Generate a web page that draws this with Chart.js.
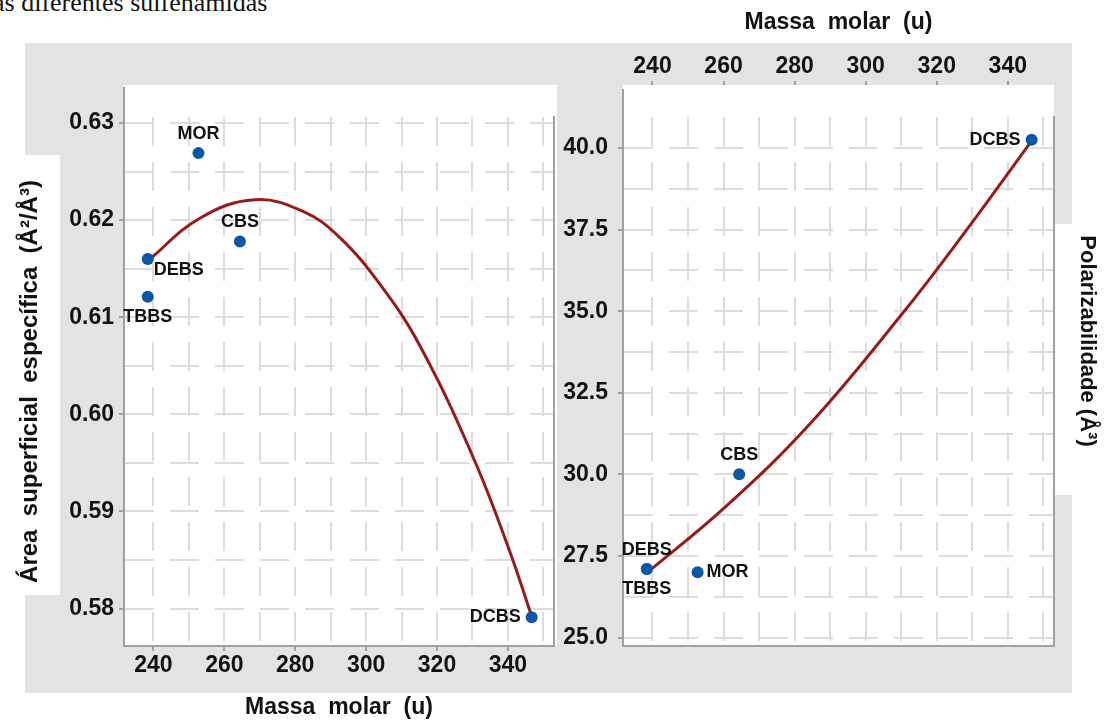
<!DOCTYPE html>
<html lang="pt">
<head>
<meta charset="utf-8">
<title>Área superficial específica e polarizabilidade das sulfenamidas</title>
<script src="https://cdn.jsdelivr.net/npm/chart.js@4.4.1/dist/chart.umd.min.js"></script>
<style>
  body { margin: 0; background: #fff; }
  #page { position: relative; width: 1112px; height: 721px; overflow: hidden; }
  #page > * { position: absolute; }
  .doc-text { left: -7px; top: -10px; font: 26px 'Liberation Serif', 'Times New Roman', serif; line-height: 26px; white-space: nowrap; color: #111; }
  .frame-bg { left: 25px; top: 43px; width: 1047px; height: 650px; background: #e3e3e3; }
  .notch-left { left: 25px; top: 155px; width: 35px; height: 440px; background: #fff; }
  .notch-right { left: 1054px; top: 224px; width: 18px; height: 271px; background: #fff; }
  .plot-left { left: 124px; top: 85px; width: 433px; height: 561px; background: #fff; }
  .plot-right { left: 623px; top: 85px; width: 431px; height: 561px; background: #fff; }
  .axis-ext { width: 2px; background: #a0a0a0; }
</style>
</head>
<body>
<div id="page">
  <div class="doc-text">as diferentes sulfenamidas</div>
  <div class="frame-bg"></div>
  <div class="notch-left"></div>
  <div class="notch-right"></div>
  <div class="plot-left"></div>
  <div class="plot-right"></div>
  <div class="axis-ext" style="left:123px;top:87px;height:30px"></div>
  <div class="axis-ext" style="left:622px;top:89px;height:28px"></div>
  <canvas id="areaChart" width="560" height="721" style="left:0;top:0"></canvas>
  <canvas id="polarChart" width="556" height="721" style="left:556px;top:0"></canvas>
</div>
<script>
const compounds = ['TBBS', 'DEBS', 'MOR', 'CBS', 'DCBS'];
const molarMass = [238.4, 238.4, 252.7, 264.4, 346.7];
const surfaceArea = [0.6121, 0.6160, 0.6269, 0.6178, 0.5791];
const polarizability = [27.1, 27.1, 27.0, 30.0, 40.25];

// fitted curves
const areaFitMass = [238.4, 253.1, 268.6, 282.2, 292.3, 304.3, 315.4, 330.4, 340.5, 346.7];
const areaFitValue = [0.6158, 0.6202, 0.6221, 0.6209, 0.6183, 0.6132, 0.6069, 0.5954, 0.5859, 0.5792];
const polarFitMass = [238.4, 260.6, 284.6, 310.5, 328.4, 346.7];
const polarFitValue = [26.98, 29.01, 31.58, 34.95, 37.49, 40.22];

// tick labels
const massTicks = [240, 260, 280, 300, 320, 340];
const areaTicks = [0.58, 0.59, 0.60, 0.61, 0.62, 0.63];
const polarTicks = [25.0, 27.5, 30.0, 32.5, 35.0, 37.5, 40.0];

const areaLabelSpots = { TBBS: 'below', DEBS: 'belowRight', MOR: 'above', CBS: 'above', DCBS: 'left' };
const polarLabelSpots = { TBBS: 'below', DEBS: 'above', MOR: 'right', CBS: 'above', DCBS: 'left' };

const pointBlue = '#0c56a6';
const fitRed = '#961b1b';
const gridGray = '#dcdcdc';
const axisGray = '#a0a0a0';
const textColor = '#111111';
const gridDash = [29, 16];
const tickFont = { size: 23, weight: 'bold' };
const titleFont = { size: 23, weight: 'bold' };

Chart.defaults.font.family = '"Liberation Sans", Arial, sans-serif';
Chart.defaults.color = textColor;

const isLabeled = (list, v) => list.some(t => Math.abs(t - v) < 1e-6);
const tickMarkColor = list => c => (c.tick && isLabeled(list, c.tick.value)) ? axisGray : 'rgba(0,0,0,0)';

function toPoints(xs, ys) {
    return xs.map((x, i) => ({ x: x, y: ys[i] }));
}

// names next to the markers
function pointLabels(spots) {
    return {
        id: 'pointLabels',
        afterDatasetsDraw(chart) {
            const ctx = chart.ctx;
            ctx.save();
            ctx.font = 'bold 18px "Liberation Sans", Arial, sans-serif';
            ctx.fillStyle = textColor;
            ctx.textBaseline = 'middle';
            chart.getDatasetMeta(0).data.forEach((pt, i) => {
                const spot = spots[compounds[i]];
                let x = pt.x, y = pt.y;
                ctx.textAlign = 'center';
                if (spot === 'above') { y -= 19; }
                else if (spot === 'below') { y += 20; }
                else if (spot === 'belowRight') { ctx.textAlign = 'left'; x += 6; y += 11; }
                else if (spot === 'left') { ctx.textAlign = 'right'; x -= 11; }
                else if (spot === 'right') { ctx.textAlign = 'left'; x += 9; }
                ctx.fillText(compounds[i], x, y);
            });
            ctx.restore();
        }
    };
}

// right-hand axis title, reads top to bottom
const sideTitle = {
    id: 'sideTitle',
    afterDraw(chart) {
        const ctx = chart.ctx;
        const area = chart.chartArea;
        ctx.save();
        ctx.translate(area.right + 33, area.top + 224);
        ctx.rotate(Math.PI / 2);
        ctx.font = 'bold 22px "Liberation Sans", Arial, sans-serif';
        ctx.fillStyle = textColor;
        ctx.textAlign = 'center';
        ctx.textBaseline = 'middle';
        ctx.fillText('Polarizabilidade (Å³)', 0, 0);
        ctx.restore();
    }
};

function edgeScale(position, size) {
    return {
        type: 'linear',
        position: position,
        min: 0,
        max: 1,
        afterFit: s => { if (position === 'right') { s.width = size; } else { s.height = size; } },
        ticks: { display: false },
        grid: { display: false },
        border: { display: true, color: axisGray, width: 2 }
    };
}

function datasets(values, fitMass, fitValue) {
    return [
        {
            data: toPoints(molarMass, values),
            backgroundColor: pointBlue,
            borderWidth: 0,
            pointRadius: 6,
            pointHoverRadius: 6,
            order: 0
        },
        {
            data: toPoints(fitMass, fitValue),
            showLine: true,
            borderColor: fitRed,
            borderWidth: 3,
            pointRadius: 0,
            tension: 0.4,
            fill: false,
            order: 1
        }
    ];
}

new Chart(document.getElementById('areaChart'), {
    type: 'scatter',
    data: { datasets: datasets(surfaceArea, areaFitMass, areaFitValue) },
    options: {
        responsive: false,
        animation: false,
        events: [],
        layout: { padding: { left: 10, top: 117, right: 4, bottom: 0 } },
        plugins: { legend: { display: false }, tooltip: { enabled: false } },
        scales: {
            x: {
                type: 'linear',
                position: 'bottom',
                min: 231.7,
                max: 353.0,
                afterFit: s => { s.height = 75; },
                ticks: {
                    stepSize: 10,
                    includeBounds: false,
                    autoSkip: false,
                    maxRotation: 0,
                    padding: 1,
                    font: tickFont,
                    callback: v => isLabeled(massTicks, v) ? String(v) : ''
                },
                grid: { color: gridGray, lineWidth: 2, tickLength: 5, tickWidth: 2, tickColor: tickMarkColor(massTicks) },
                border: { display: true, color: axisGray, width: 2, dash: gridDash },
                title: { display: true, text: 'Massa  molar  (u)', font: titleFont, padding: { top: 0, bottom: 0 } }
            },
            y: {
                type: 'linear',
                position: 'left',
                min: 0.57614,
                max: 0.63062,
                afterFit: s => { s.width = 114; },
                ticks: {
                    stepSize: 0.005,
                    includeBounds: false,
                    autoSkip: false,
                    padding: 5,
                    font: tickFont,
                    callback: v => isLabeled(areaTicks, v) ? v.toFixed(2) : ''
                },
                grid: { color: gridGray, lineWidth: 2, tickLength: 5, tickWidth: 2, tickColor: tickMarkColor(areaTicks) },
                border: { display: true, color: axisGray, width: 2, dash: gridDash },
                title: { display: true, text: 'Área  superficial  específica  (Å²/Å³)', font: { size: 24, weight: 'bold' }, padding: { top: 6, bottom: 0 } }
            },
            yEdge: edgeScale('right', 0)
        }
    },
    plugins: [pointLabels(areaLabelSpots)]
});

new Chart(document.getElementById('polarChart'), {
    type: 'scatter',
    data: { datasets: datasets(polarizability, polarFitMass, polarFitValue) },
    options: {
        responsive: false,
        animation: false,
        events: [],
        layout: { padding: 0 },
        plugins: { legend: { display: false }, tooltip: { enabled: false } },
        scales: {
            x: {
                type: 'linear',
                position: 'top',
                min: 231.7,
                max: 353.0,
                afterFit: s => { s.height = 117; },
                ticks: {
                    stepSize: 10,
                    includeBounds: false,
                    autoSkip: false,
                    maxRotation: 0,
                    padding: 1,
                    font: tickFont,
                    callback: v => isLabeled(massTicks, v) ? String(v) : ''
                },
                grid: {
                    color: gridGray, lineWidth: 2, tickLength: 36, tickWidth: 2,
                    tickColor: tickMarkColor(massTicks), tickBorderDash: [4, 100]
                },
                border: { display: false, dash: gridDash },
                title: { display: true, text: 'Massa  molar  (u)', font: titleFont, padding: { top: 9, bottom: 0 } }
            },
            xEdge: edgeScale('bottom', 75),
            y: {
                type: 'linear',
                position: 'left',
                min: 24.74,
                max: 40.95,
                afterFit: s => { s.width = 67; },
                ticks: {
                    stepSize: 1.25,
                    includeBounds: false,
                    autoSkip: false,
                    padding: 10,
                    font: tickFont,
                    callback: v => isLabeled(polarTicks, v) ? v.toFixed(1) : ''
                },
                grid: { color: gridGray, lineWidth: 2, tickLength: 5, tickWidth: 2, tickColor: tickMarkColor(polarTicks) },
                border: { display: true, color: axisGray, width: 2, dash: gridDash }
            },
            yEdge: edgeScale('right', 58)
        }
    },
    plugins: [pointLabels(polarLabelSpots), sideTitle]
});
</script>
</body>
</html>
